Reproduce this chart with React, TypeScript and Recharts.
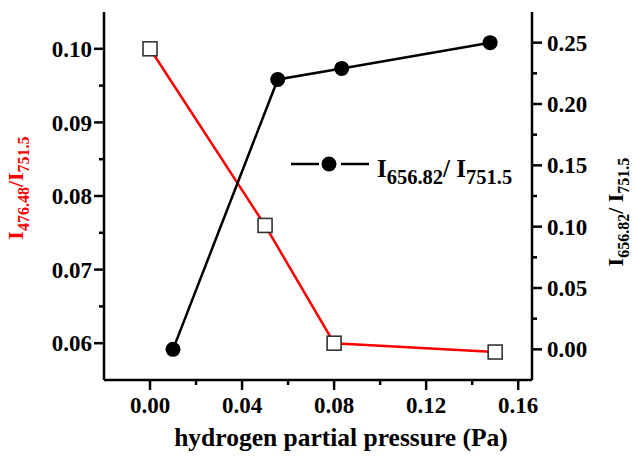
import { LineChart, Line, XAxis, YAxis } from "recharts";

const redX = [0, 0.05, 0.08, 0.15];
const redY = [0.1, 0.076, 0.06, 0.0588];
const blackX = [0.01, 0.0555, 0.0833, 0.1478];
const blackY = [0.0, 0.22, 0.229, 0.25];

// major ticks get a label, minor ticks only a short line
const xMajor = [0, 0.04, 0.08, 0.12, 0.16];
const xMinor = [0.02, 0.06, 0.1, 0.14];
const leftMajor = [0.06, 0.07, 0.08, 0.09, 0.1];
const leftMinor = [0.065, 0.075, 0.085, 0.095];
const rightMajor = [0, 0.05, 0.1, 0.15, 0.2, 0.25];
const rightMinor = [0.025, 0.075, 0.125, 0.175, 0.225];

const redData = redX.map((x, i) => ({ x, y: redY[i] }));
const blackData = blackX.map((x, i) => ({ x, y: blackY[i] }));

const W = 635;
const H = 459;
const FONT = "'Liberation Serif', 'Times New Roman', serif";
const XDOM: [number, number] = [-0.02, 0.166];
const MAJ = 10;
const MIN = 5;
const LW = 2.5;

const isMajor = (list: number[], v: number) => list.some((m) => Math.abs(m - v) < 1e-9);
const sortAll = (a: number[], b: number[]) => [...a, ...b].sort((p, q) => p - q);

const label = (x: number, y: number, anchor: string, dy: string, v: number) => (
  <text x={x} y={y} dy={dy} textAnchor={anchor as any} fontFamily={FONT} fontWeight={700} fontSize={23} fill="#000">
    {v.toFixed(2)}
  </text>
);

// tickSize is 0 on every axis, so p.x / p.y sit tickMargin away from the axis line
const BottomTick = (p: any) => {
  const v = p.payload.value;
  const y0 = p.y - 17;
  const major = isMajor(xMajor, v);
  return (
    <g>
      <line x1={p.x} x2={p.x} y1={y0} y2={y0 + (major ? MAJ : MIN)} stroke="#000" strokeWidth={LW} />
      {major && label(p.x, p.y, "middle", "0.71em", v)}
    </g>
  );
};
const TopTick = (p: any) => {
  const major = isMajor(xMajor, p.payload.value);
  return <line x1={p.x} x2={p.x} y1={p.y} y2={p.y + (major ? MAJ : MIN)} stroke="#000" strokeWidth={LW} />;
};
const LeftTick = (p: any) => {
  const v = p.payload.value;
  const x0 = p.x + 12;
  const major = isMajor(leftMajor, v);
  return (
    <g>
      <line x1={x0} x2={x0 - (major ? MAJ : MIN)} y1={p.y} y2={p.y} stroke="#000" strokeWidth={LW} />
      {major && label(p.x, p.y, "end", "0.355em", v)}
    </g>
  );
};
const RightTick = (p: any) => {
  const v = p.payload.value;
  const x0 = p.x - 15;
  const major = isMajor(rightMajor, v);
  return (
    <g>
      <line x1={x0} x2={x0 + (major ? MAJ : MIN)} y1={p.y} y2={p.y} stroke="#000" strokeWidth={LW} />
      {major && label(p.x, p.y, "start", "0.355em", v)}
    </g>
  );
};

const SquareDot = (p: any) => (
  <rect key={p.index} x={p.cx - 7} y={p.cy - 7} width={14} height={14} fill="#fff" stroke="#333" strokeWidth={1.6} />
);
const CircleDot = (p: any) => <circle key={p.index} cx={p.cx} cy={p.cy} r={7.5} fill="#000" />;

export default function App() {
  return (
    <div style={{ position: "absolute", left: 0, top: 0, width: W, height: H, background: "#fff" }}>
      <style>{`.recharts-cartesian-axis-line{stroke:#000;stroke-width:${LW}px}`}</style>
      <LineChart width={W} height={H} margin={{ top: 12, right: 0, bottom: 0, left: 0 }}>
        <XAxis xAxisId="b" type="number" dataKey="x" domain={XDOM} ticks={sortAll(xMajor, xMinor)} allowDataOverflow
          interval={0} height={79} tickSize={0} tickMargin={17} tick={BottomTick} tickLine={false} axisLine />
        <XAxis xAxisId="t" orientation="top" type="number" dataKey="x" domain={XDOM} ticks={sortAll(xMajor, xMinor)}
          allowDataOverflow interval={0} height={0} tickSize={0} tickMargin={0} tick={TopTick} tickLine={false} axisLine />
        <YAxis yAxisId="l" type="number" domain={[0.055, 0.105]} ticks={sortAll(leftMajor, leftMinor)} allowDataOverflow
          interval={0} width={104} tickSize={0} tickMargin={12} tick={LeftTick} tickLine={false} axisLine />
        <YAxis yAxisId="r" orientation="right" type="number" domain={[-0.025, 0.275]}
          ticks={sortAll(rightMajor, rightMinor)} allowDataOverflow interval={0} width={103} tickSize={0}
          tickMargin={15} tick={RightTick} tickLine={false} axisLine />
        <Line xAxisId="b" yAxisId="l" data={redData} dataKey="y" type="linear" stroke="#ff0000" strokeWidth={2.5}
          dot={SquareDot} activeDot={false} isAnimationActive={false} />
        <Line xAxisId="b" yAxisId="r" data={blackData} dataKey="y" type="linear" stroke="#000" strokeWidth={2.5}
          dot={CircleDot} activeDot={false} isAnimationActive={false} />
      </LineChart>
      <svg width={W} height={H} style={{ position: "absolute", left: 0, top: 0, pointerEvents: "none" }}>
        <g fontFamily={FONT} fontWeight={700}>
          <text x={23} y={188} fill="#ff0000" fontSize={22} textAnchor="middle" transform="rotate(-90 23 188)">
            <tspan>I</tspan>
            <tspan dy={6} fontSize={16}>476.48</tspan>
            <tspan dy={-6}>/</tspan>
            <tspan>I</tspan>
            <tspan dy={6} fontSize={16}>751.5</tspan>
          </text>
          <text x={623} y={212} fill="#000" fontSize={22} textAnchor="middle" transform="rotate(-90 623 212)">
            <tspan>I</tspan>
            <tspan dy={6} fontSize={16}>656.82</tspan>
            <tspan dy={-6}>/ </tspan>
            <tspan>I</tspan>
            <tspan dy={6} fontSize={16}>751.5</tspan>
          </text>
          <text x={341} y={446} fill="#000" fontSize={25.5} textAnchor="middle">hydrogen partial pressure (Pa)</text>
          <line x1={291} y1={164} x2={319} y2={164} stroke="#000" strokeWidth={2.5} />
          <circle cx={329} cy={164} r={7.5} fill="#000" />
          <line x1={341} y1={164} x2={369} y2={164} stroke="#000" strokeWidth={2.5} />
          <text x={377} y={177} fill="#000" fontSize={25}>
            <tspan>I</tspan>
            <tspan dy={7} fontSize={20.5}>656.82</tspan>
            <tspan dy={-7}>/ </tspan>
            <tspan>I</tspan>
            <tspan dy={7} fontSize={20.5}>751.5</tspan>
          </text>
        </g>
      </svg>
    </div>
  );
}
